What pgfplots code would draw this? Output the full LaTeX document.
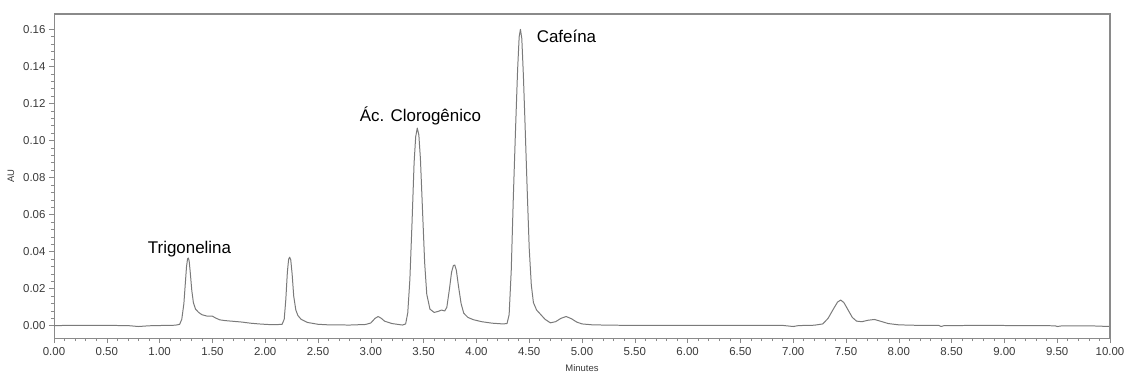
\documentclass[border=0pt]{standalone}
\usepackage{pgfplots}
\pgfplotsset{compat=1.18}
\usepackage{fontspec}
\setmainfont{Liberation Sans}
\usetikzlibrary{calc}
\definecolor{trace}{HTML}{7A7A7A}
\definecolor{frame}{HTML}{8A8A8A}
\definecolor{ticklab}{HTML}{3A3A3A}
\begin{document}
\begin{tikzpicture}
\begin{axis}[
  scale only axis,
  width=1056bp, height=324bp,
  xmin=0, xmax=10, ymin=-0.0066, ymax=0.1683,
  xtick={0,0.5,...,10}, ytick={0,0.02,...,0.16},
  minor x tick num=4, minor y tick num=4,
  tick align=outside, tick pos=left,
  major tick length=5bp, minor tick length=3bp,
  axis line style={frame, line width=0.9pt},
  every tick/.style={frame, line width=0.6pt},
  /pgf/number format/.cd, fixed, fixed zerofill, precision=2, assume math mode=true,
  /pgfplots/.cd,
  scaled y ticks=false,
  tick label style={font=\fontsize{11.5}{13}\selectfont, text=ticklab},
  xticklabel style={yshift=-1bp},
  xlabel={Minutes}, ylabel={AU},
  xlabel style={font=\fontsize{9.5}{10}\selectfont, text=ticklab, yshift=-2bp},
  ylabel style={font=\fontsize{9.5}{10}\selectfont, text=ticklab, yshift=2bp},
]
\addplot[trace, line width=1pt, line join=round] table {
x y
0.00 0.0000
0.10 0.0002
0.30 0.0002
0.50 0.0002
0.70 0.0001
0.80 -0.0004
0.90 0.0000
1.05 0.0002
1.15 0.0003
1.19 0.0008
1.21 0.0035
1.23 0.012
1.245 0.024
1.255 0.032
1.265 0.0362
1.272 0.0366
1.28 0.0350
1.29 0.029
1.305 0.019
1.32 0.0125
1.34 0.0090
1.37 0.0072
1.40 0.0060
1.45 0.0052
1.50 0.0052
1.53 0.0042
1.57 0.0032
1.62 0.0028
1.70 0.0024
1.78 0.0020
1.86 0.0014
1.94 0.0010
2.02 0.0007
2.10 0.0006
2.16 0.0008
2.18 0.0035
2.195 0.014
2.21 0.029
2.222 0.0360
2.232 0.0370
2.242 0.0355
2.255 0.028
2.27 0.016
2.29 0.0085
2.31 0.0055
2.34 0.0035
2.40 0.0018
2.50 0.0008
2.60 0.0005
2.80 0.0004
2.95 0.0007
3.00 0.0015
3.04 0.0040
3.07 0.0050
3.10 0.0040
3.13 0.0025
3.20 0.0012
3.30 0.0004
3.33 0.0010
3.35 0.0070
3.37 0.025
3.39 0.055
3.41 0.088
3.425 0.1020
3.44 0.1067
3.455 0.1030
3.47 0.090
3.49 0.062
3.51 0.034
3.53 0.017
3.56 0.0090
3.60 0.0072
3.64 0.0078
3.67 0.0085
3.70 0.0080
3.72 0.0100
3.745 0.020
3.765 0.029
3.782 0.0325
3.795 0.0328
3.81 0.0300
3.83 0.0215
3.855 0.0120
3.88 0.0068
3.92 0.0045
3.97 0.0033
4.05 0.0022
4.15 0.0014
4.25 0.0010
4.29 0.0012
4.31 0.0060
4.33 0.030
4.35 0.070
4.37 0.105
4.39 0.138
4.405 0.1560
4.417 0.1600
4.43 0.1550
4.445 0.135
4.46 0.110
4.48 0.075
4.50 0.042
4.52 0.022
4.54 0.0125
4.57 0.0085
4.61 0.0060
4.65 0.0035
4.70 0.0016
4.75 0.0022
4.80 0.0040
4.85 0.0050
4.90 0.0038
4.95 0.0020
5.00 0.0010
5.10 0.0005
5.30 0.0003
5.60 0.0002
6.00 0.0002
6.50 0.0002
6.90 0.0002
7.00 -0.0004
7.05 0.0001
7.20 0.0003
7.28 0.0010
7.33 0.0040
7.38 0.0090
7.42 0.0128
7.45 0.0139
7.48 0.0125
7.52 0.0085
7.56 0.0045
7.60 0.0025
7.65 0.0022
7.71 0.0030
7.77 0.0034
7.83 0.0024
7.90 0.0012
8.00 0.0005
8.20 0.0002
8.38 0.0002
8.40 -0.0004
8.43 0.0001
8.80 0.0002
9.20 0.0001
9.48 0.0000
9.50 -0.0004
9.55 0.0000
9.80 0.0000
10.00 -0.0004
};
\node[anchor=base, font=\fontsize{17}{20}\selectfont] at (axis cs:1.283,0.0392) {Trigonelina};
\node[anchor=base, font=\fontsize{17}{20}\selectfont] at (axis cs:3.47,0.1105) {Ác. Clorogênico};
\node[anchor=base west, font=\fontsize{17}{20}\selectfont, inner sep=0pt] at (axis cs:4.57,0.1531) {Cafeína};
\end{axis}
\draw[frame, line width=1.6pt] (current axis.north west) -- (current axis.north east) -- (current axis.south east);
\pgfresetboundingbox
\path ($(current axis.south west)+(-54bp,-37bp)$) rectangle ($(current axis.north east)+(15bp,14bp)$);
\end{tikzpicture}
\end{document}
